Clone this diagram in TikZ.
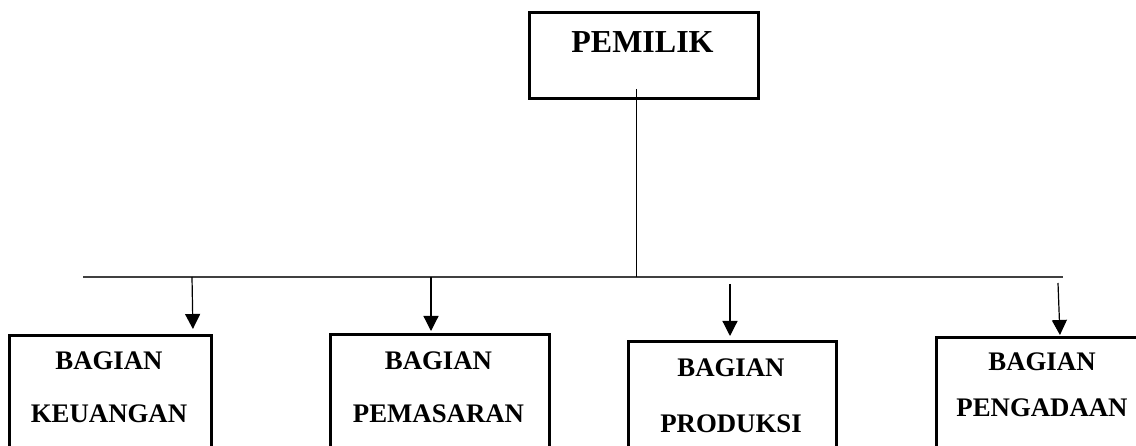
\documentclass[tikz,border=0pt]{standalone}
\usepackage{fontspec}
\setmainfont{Liberation Serif}
\usetikzlibrary{arrows.meta}
\begin{document}
\begin{tikzpicture}[x=1pt,y=-1pt,
  box/.style={draw, line width=2.8pt, anchor=north west, inner sep=0pt, minimum height=150pt},
  lbl/.style={anchor=base, inner sep=0pt, font=\bfseries\fontsize{26.8}{30}\selectfont},
  toplbl/.style={anchor=base, inner sep=0pt, font=\bfseries\fontsize{32}{36}\selectfont},
  bus/.style={line width=1.4pt, draw=black!75},
  arr/.style={line width=1.2pt, -{Triangle[width=15pt,length=15pt]}}
]
\useasboundingbox (0,0) rectangle (1136,446);
\clip (0,0) rectangle (1136,446);
% top box
\node[box, minimum width=229pt, minimum height=86pt] (top) at (528,11) {};
\node[toplbl] (toptxt) at (642.5,53) {PEMILIK};
% lower boxes
\node[box, minimum width=202pt] (k1) at (8,334) {};
\node[box, minimum width=219pt] (k2) at (329,333) {};
\node[box, minimum width=208pt] (k3) at (627,340) {};
\node[box, minimum width=214pt] (k4) at (935,336) {};
\node[lbl] (k1a) at (109,370) {BAGIAN};
\node[lbl] (k1b) at (109,423) {KEUANGAN};
\node[lbl] (k2a) at (438.5,370) {BAGIAN};
\node[lbl] (k2b) at (438.5,422) {PEMASARAN};
\node[lbl] (k3a) at (731,377) {BAGIAN};
\node[lbl] (k3b) at (731,432) {PRODUKSI};
\node[lbl] (k4a) at (1042,371) {BAGIAN};
\node[lbl] (k4b) at (1042,417) {PENGADAAN};
% connectors
\coordinate (v0) at (636,89);
\coordinate (bl) at (83,277);
\coordinate (br) at (1063,277);
\coordinate (vj) at (636,277);
\draw[bus] (bl) -- (br);
\draw[line width=1pt] (v0) -- (vj);
\coordinate (e1) at (192,277);
\coordinate (e2) at (431,277);
\coordinate (e3) at (730,284);
\coordinate (e4) at (1058,283);
\draw[arr, shorten >=5pt] (e1) -- ([xshift=1pt]e1 |- k1.north);
\draw[arr, shorten >=2pt] (e2) -- (e2 |- k2.north);
\draw[arr, shorten >=4pt] (e3) -- (e3 |- k3.north);
\draw[arr, shorten >=1pt] (e4) -- ([xshift=2pt]e4 |- k4.north);
\end{tikzpicture}
\end{document}
